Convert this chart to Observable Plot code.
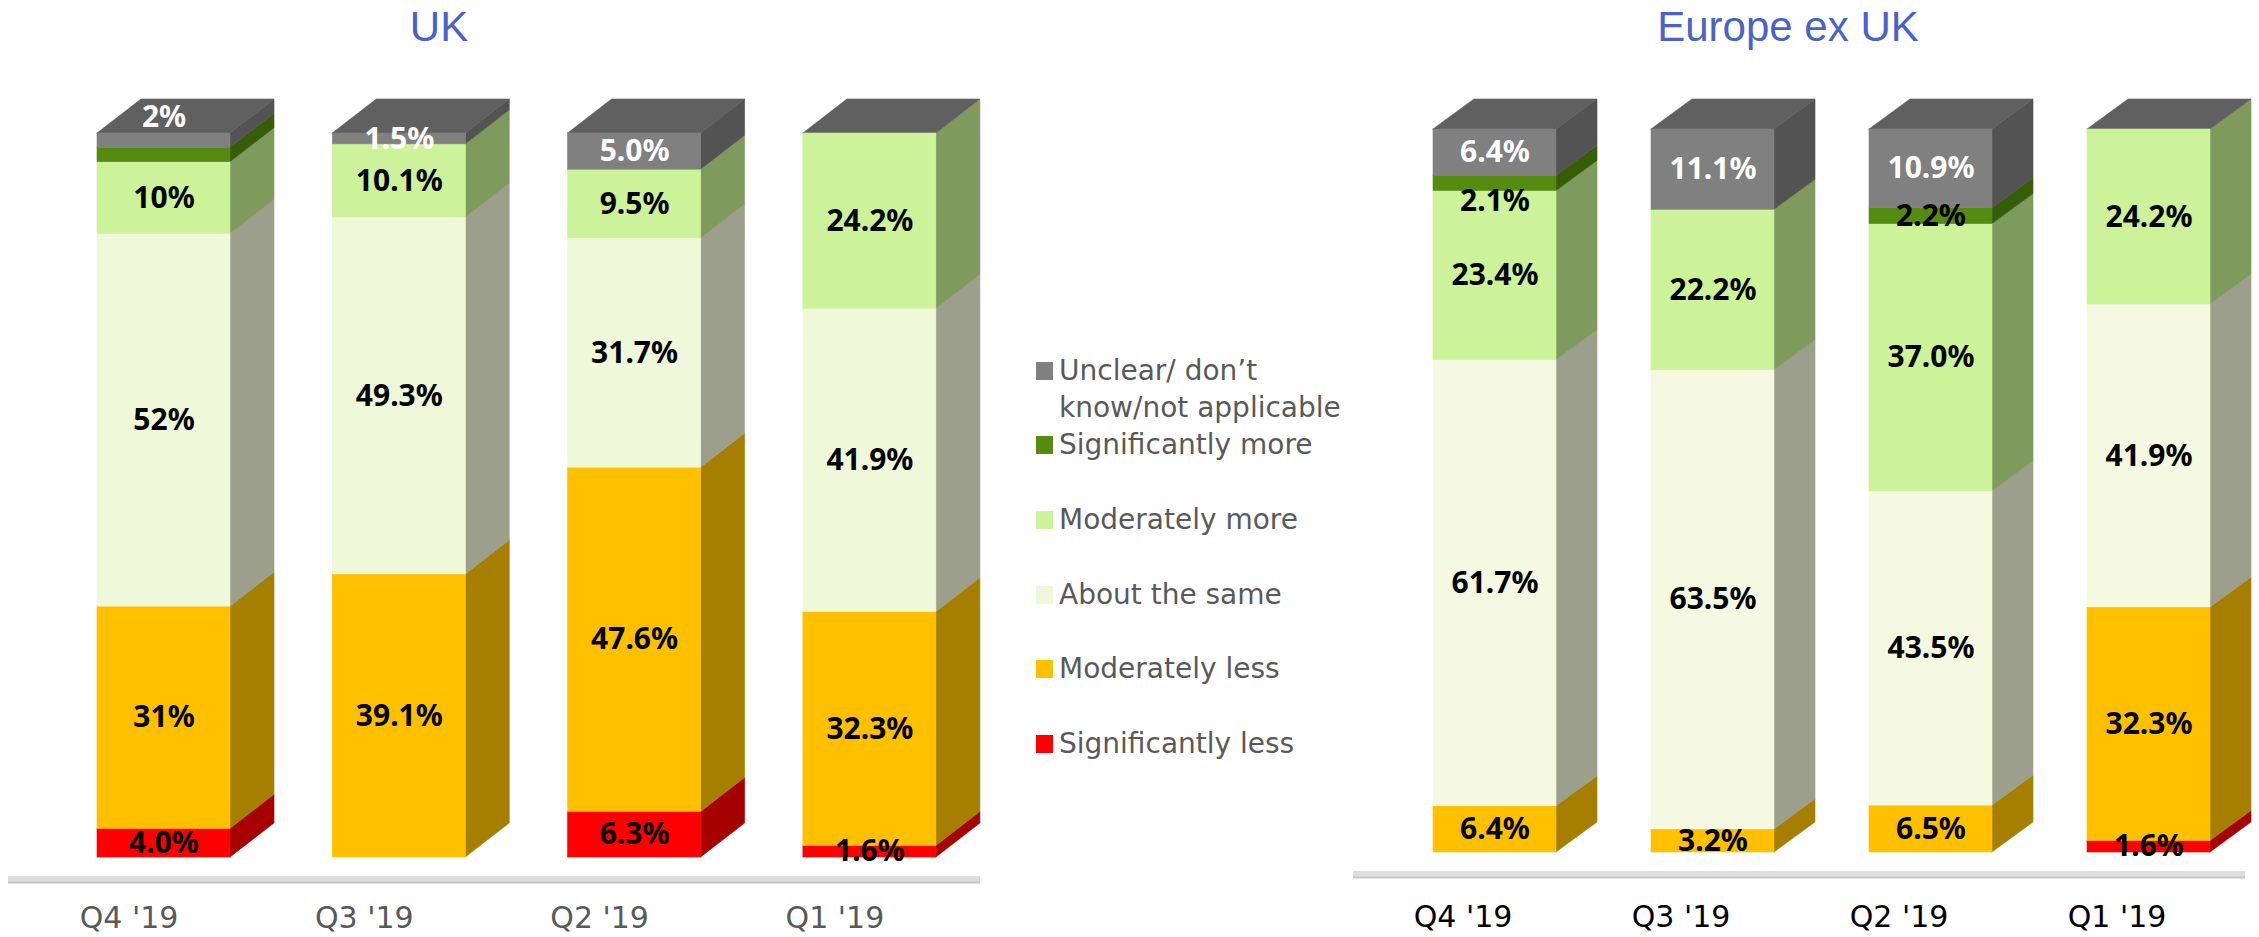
<!DOCTYPE html>
<html>
<head>
<meta charset="utf-8">
<script src="https://cdn.jsdelivr.net/npm/d3@7"></script>
<script src="https://cdn.jsdelivr.net/npm/@observablehq/plot@0.6"></script>
<style>
  html, body { margin: 0; padding: 0; background: #fff; }
  #wrap { position: relative; width: 2259px; height: 937px; overflow: hidden; background: #fff; }
  #wrap > svg, #wrap > figure { position: absolute; top: 0; margin: 0; }
</style>
</head>
<body>
<div id="wrap"></div>
<script>
// ---------------- DATA ----------------
const quarters = ["Q4 '19", "Q3 '19", "Q2 '19", "Q1 '19"];
// stack order: bottom -> top
const seriesNames = ["Significantly less", "Moderately less", "About the same", "Moderately more", "Significantly more", "Unclear/ don’t know/not applicable"];

// UK (values across quarters Q4, Q3, Q2, Q1)
const ukSigLess  = [4.0, 0,    6.3,  1.6];
const ukModLess  = [31,  39.1, 47.6, 32.3];
const ukSame     = [52,  49.3, 31.7, 41.9];
const ukModMore  = [10,  10.1, 9.5,  24.2];
const ukSigMore  = [2,   0,    0,    0];
const ukUnclear  = [2,   1.5,  5.0,  0];

const ukSigLessLbl = ["4.0%", "", "6.3%", "1.6%"];
const ukModLessLbl = ["31%", "39.1%", "47.6%", "32.3%"];
const ukSameLbl    = ["52%", "49.3%", "31.7%", "41.9%"];
const ukModMoreLbl = ["10%", "10.1%", "9.5%", "24.2%"];
const ukSigMoreLbl = ["", "", "", ""];
const ukUnclearLbl = ["2%", "1.5%", "5.0%", ""];

// Europe ex UK
const euSigLess  = [0,    0,    0,    1.6];
const euModLess  = [6.4,  3.2,  6.5,  32.3];
const euSame     = [61.7, 63.5, 43.5, 41.9];
const euModMore  = [23.4, 22.2, 37.0, 24.2];
const euSigMore  = [2.1,  0,    2.2,  0];
const euUnclear  = [6.4,  11.1, 10.9, 0];

const euSigLessLbl = ["", "", "", "1.6%"];
const euModLessLbl = ["6.4%", "3.2%", "6.5%", "32.3%"];
const euSameLbl    = ["61.7%", "63.5%", "43.5%", "41.9%"];
const euModMoreLbl = ["23.4%", "22.2%", "37.0%", "24.2%"];
const euSigMoreLbl = ["2.1%", "", "2.2%", ""];
const euUnclearLbl = ["6.4%", "11.1%", "10.9%", ""];

// ---------------- STYLE ----------------
const frontUK = ["#ff0000", "#ffc000", "#eff9d9", "#ccf29a", "#558b10", "#808080"];
const frontEU = ["#ff0000", "#ffc000", "#f6f9e1", "#ccf29a", "#558b10", "#808080"];
const sideCol = ["#a60000", "#a67e00", "#9c9f8b", "#7e9a5d", "#365e09", "#535353"];
const topCol = "#606060";
const labelFont = "'Noto Sans', 'DejaVu Sans', sans-serif";
const axisFont = "'DejaVu Sans', Verdana, sans-serif";

function panel(cfg) {
  const {vals, labels, fronts, c0, step, barW, depth, rise, yBot, yTop, floorDy, floorX1, floorX2,
         labelDx, labelDy, labelColor, width, nudges} = cfg;
  const hw = barW / 2 / step, dd = depth / step;
  const ppu = yBot - yTop, rr = rise / ppu;
  const segs = [], sides = [], tops = [];
  quarters.forEach((q, i) => {
    const total = d3.sum(vals, v => v[i]);
    let cum = 0;
    vals.forEach((v, s) => {
      const y1 = cum, y2 = cum + v[i] / total;
      cum = y2;
      if (v[i] > 0) {
        const key = i + "-" + s;
        const nud = (nudges[key] || 0) / ppu;   // positive = move label up (px)
        segs.push({i, s, y1, y2, label: labels[s][i], fill: fronts[s], ym: (y1 + y2) / 2 + nud,
                   color: s === 5 ? "#ffffff" : "#000000"});
        sides.push({key, x: i + hw, y1, y2, fill: sideCol[s]});
        sides.push({key, x: i + hw + dd, y1: y1 + rr, y2: y2 + rr, fill: sideCol[s]});
      }
    });
    const t = cum;
    tops.push({key: "t" + i, x: i - hw, y1: t, y2: t});
    tops.push({key: "t" + i, x: i - hw + dd, y1: t, y2: t + rr});
    tops.push({key: "t" + i, x: i + hw, y1: t, y2: t + rr});
    tops.push({key: "t" + i, x: i + hw + dd, y1: t + rr, y2: t + rr});
  });
  return Plot.plot({
    width, height: 937, margin: 0,
    style: {background: "transparent", overflow: "visible"},
    x: {type: "linear", domain: [0, 3], range: [c0, c0 + 3 * step], axis: null},
    y: {domain: [0, 1], range: [yBot, yTop], axis: null},
    color: {type: "identity"},
    marks: [
      Plot.ruleY([0], {x1: (floorX1 - c0) / step, x2: (floorX2 - c0) / step, dy: floorDy, stroke: "#dedede", strokeWidth: 7}),
      Plot.ruleY([0], {x1: (floorX1 - c0) / step, x2: (floorX2 - c0) / step, dy: floorDy + 3, stroke: "#c6c6c6", strokeWidth: 2}),
      Plot.area(sides, {x1: "x", y1: "y1", y2: "y2", z: "key", fill: "fill", stroke: "fill", strokeWidth: 0.6, curve: "linear"}),
      Plot.area(tops, {x1: "x", y1: "y1", y2: "y2", z: "key", fill: topCol, stroke: topCol, strokeWidth: 0.6, curve: "linear"}),
      Plot.rect(segs, {x1: d => d.i - hw, x2: d => d.i + hw, y1: "y1", y2: "y2", fill: "fill", stroke: "fill", strokeWidth: 0.6}),
      Plot.text(segs.filter(d => d.label), {x: "i", y: "ym", text: "label", fill: "color",
        fontSize: 30, fontWeight: "bold", fontFamily: labelFont}),
      Plot.text(quarters, {x: (d, i) => i, y: () => 0, text: d => d, dx: labelDx, dy: labelDy,
        fontSize: 30, fontFamily: axisFont, fill: labelColor})
    ]
  });
}

const wrap = document.getElementById("wrap");

const uk = panel({
  vals: [ukSigLess, ukModLess, ukSame, ukModMore, ukSigMore, ukUnclear],
  labels: [ukSigLessLbl, ukModLessLbl, ukSameLbl, ukModMoreLbl, ukSigMoreLbl, ukUnclearLbl],
  fronts: frontUK,
  c0: 163.5, step: 235.3, barW: 133, depth: 44, rise: 34, yBot: 857, yTop: 133,
  floorDy: 22, floorX1: 8, floorX2: 980, labelDx: -35, labelDy: 61, labelColor: "#595959",
  width: 1000, nudges: {"0-5": 23}
});
uk.style.left = "0px";
wrap.appendChild(uk);

const eu = panel({
  vals: [euSigLess, euModLess, euSame, euModMore, euSigMore, euUnclear],
  labels: [euSigLessLbl, euModLessLbl, euSameLbl, euModMoreLbl, euSigMoreLbl, euUnclearLbl],
  fronts: frontEU,
  c0: 154.5, step: 218, barW: 123, depth: 41, rise: 30, yBot: 852, yTop: 129,
  floorDy: 22, floorX1: 13, floorX2: 905, labelDx: -32, labelDy: 65, labelColor: "#000000",
  width: 919, nudges: {"0-4": -18}
});
eu.style.left = "1340px";
wrap.appendChild(eu);

// ---------------- TITLES & LEGEND ----------------
const ov = d3.create("svg").attr("width", 2259).attr("height", 937)
  .style("position", "absolute").style("left", "0px").style("top", "0px").style("pointer-events", "none");
const titles = [{t: "UK", x: 439}, {t: "Europe ex UK", x: 1788}];
ov.selectAll("text.title").data(titles).join("text")
  .attr("x", d => d.x).attr("y", 41).attr("text-anchor", "middle")
  .attr("font-family", "'Liberation Sans', Arial, sans-serif").attr("font-size", 42)
  .attr("fill", "#4a62c8").text(d => d.t);

const legendItems = [
  {lines: ["Unclear/ don’t", "know/not applicable"], color: "#808080", base: 380},
  {lines: ["Significantly more"], color: "#558b10", base: 454},
  {lines: ["Moderately more"], color: "#ccf29a", base: 529},
  {lines: ["About the same"], color: "#eef8d9", base: 604},
  {lines: ["Moderately less"], color: "#ffc000", base: 678},
  {lines: ["Significantly less"], color: "#ff0000", base: 753}
];
const lg = ov.append("g");
legendItems.forEach(it => {
  lg.append("rect").attr("x", 1036).attr("y", it.base - 18).attr("width", 17).attr("height", 18).attr("fill", it.color);
  it.lines.forEach((ln, k) => {
    lg.append("text").attr("x", 1059).attr("y", it.base + k * 37)
      .attr("font-family", axisFont).attr("font-size", 28).attr("fill", "#595959").text(ln);
  });
});
wrap.appendChild(ov.node());
</script>
</body>
</html>
